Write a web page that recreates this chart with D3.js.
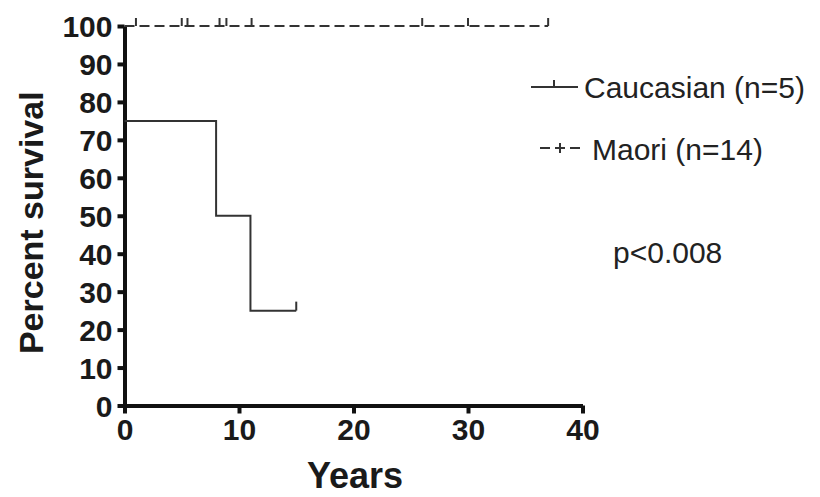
<!DOCTYPE html>
<html>
<head>
<meta charset="utf-8">
<script src="https://cdn.jsdelivr.net/npm/d3@7"></script>
<style>
  body { margin: 0; background: #fff; }
  text { font-family: "Liberation Sans", Arial, sans-serif; }
</style>
</head>
<body>
<div class="chart"></div>
<script>
// data
const xTicks = [0, 10, 20, 30, 40];
const yTicks = [0, 10, 20, 30, 40, 50, 60, 70, 80, 90, 100];

const cauTimes = [0, 8, 11, 15];
const cauSurv = [75, 50, 25, 25];
const cauCensor = [15];

const maoriTimes = [0, 37];
const maoriSurv = [100, 100];
const maoriCensor = [1, 5, 5.5, 8.3, 8.9, 11.1, 26, 30, 37];

const legendLabels = ['Caucasian (n=5)', 'Maori (n=14)'];
const pText = 'p<0.008';

const svg = d3
  .select('.chart')
  .append('svg')
  .attr('width', 820)
  .attr('height', 497);

const x = d3.scaleLinear().domain([0, 40]).range([124.5, 582.5]);
const y = d3.scaleLinear().domain([0, 100]).range([405.5, 26]);

const lineColor = '#333';

// axes
const yAxis = svg
  .append('g')
  .attr('transform', `translate(${x(0)},0)`)
  .call(
    d3
      .axisLeft(y)
      .tickValues(yTicks)
      .tickSize(7)
      .tickSizeOuter(0)
      .tickPadding(5),
  );

const xAxis = svg
  .append('g')
  .attr('transform', `translate(0,${y(0)})`)
  .call(
    d3
      .axisBottom(x)
      .tickValues(xTicks)
      .tickSize(8)
      .tickSizeOuter(0)
      .tickPadding(5),
  );

[yAxis, xAxis].forEach(g => {
  g.select('.domain').attr('stroke', '#111').attr('stroke-width', 4);
  g.selectAll('.tick line').attr('stroke', '#111').attr('stroke-width', 4);
  g.selectAll('.tick text')
    .attr('fill', '#1a1a1a')
    .style('font-size', '30px')
    .style('font-weight', 'bold');
});
yAxis.selectAll('.tick text').attr('dy', '0.36em');

// axis titles
svg
  .append('text')
  .attr('transform', `translate(43,${(y(0) + y(100)) / 2 + 7}) rotate(-90)`)
  .attr('text-anchor', 'middle')
  .style('font-size', '34px')
  .style('font-weight', 'bold')
  .attr('fill', '#1a1a1a')
  .text('Percent survival');

svg
  .append('text')
  .attr('x', 355)
  .attr('y', 488)
  .attr('text-anchor', 'middle')
  .style('font-size', '36px')
  .style('font-weight', 'bold')
  .attr('fill', '#1a1a1a')
  .text('Years');

// survival curves
const step = d3
  .line()
  .x(d => x(d[0]))
  .y(d => y(d[1]))
  .curve(d3.curveStepAfter);

const cau = cauTimes.map((t, i) => [t, cauSurv[i]]);
const maori = maoriTimes.map((t, i) => [t, maoriSurv[i]]);

svg
  .append('path')
  .datum(maori)
  .attr('d', step)
  .attr('fill', 'none')
  .attr('stroke', lineColor)
  .attr('stroke-width', 2)
  .attr('stroke-dasharray', '10,5');

svg
  .append('path')
  .datum(cau)
  .attr('d', step)
  .attr('fill', 'none')
  .attr('stroke', lineColor)
  .attr('stroke-width', 2);

// censor marks
svg
  .selectAll('.maori-censor')
  .data(maoriCensor)
  .enter()
  .append('line')
  .attr('class', 'maori-censor')
  .attr('x1', d => x(d))
  .attr('x2', d => x(d))
  .attr('y1', y(100))
  .attr('y2', y(100) - 8)
  .attr('stroke', lineColor)
  .attr('stroke-width', 2);

svg
  .selectAll('.cau-censor')
  .data(cauCensor)
  .enter()
  .append('line')
  .attr('class', 'cau-censor')
  .attr('x1', d => x(d))
  .attr('x2', d => x(d))
  .attr('y1', y(25))
  .attr('y2', y(25) - 9)
  .attr('stroke', lineColor)
  .attr('stroke-width', 2);

// legend
const leg = svg.append('g');
leg
  .append('line')
  .attr('x1', 531)
  .attr('x2', 578)
  .attr('y1', 87)
  .attr('y2', 87)
  .attr('stroke', lineColor)
  .attr('stroke-width', 2);
leg
  .append('line')
  .attr('x1', 554)
  .attr('x2', 554)
  .attr('y1', 87)
  .attr('y2', 80)
  .attr('stroke', lineColor)
  .attr('stroke-width', 2);
leg
  .append('line')
  .attr('x1', 540)
  .attr('x2', 580)
  .attr('y1', 148)
  .attr('y2', 148)
  .attr('stroke', lineColor)
  .attr('stroke-width', 2)
  .attr('stroke-dasharray', '10,5');
leg
  .append('line')
  .attr('x1', 560)
  .attr('x2', 560)
  .attr('y1', 143)
  .attr('y2', 153)
  .attr('stroke', lineColor)
  .attr('stroke-width', 2);

leg
  .selectAll('.leg-text')
  .data(legendLabels)
  .enter()
  .append('text')
  .attr('class', 'leg-text')
  .attr('x', (d, i) => (i === 0 ? 584 : 592))
  .attr('y', (d, i) => (i === 0 ? 98 : 160))
  .style('font-size', '30px')
  .attr('fill', '#222')
  .text(d => d);

svg
  .append('text')
  .attr('x', 613)
  .attr('y', 263)
  .style('font-size', '30px')
  .attr('fill', '#222')
  .text(pText);
</script>
</body>
</html>
